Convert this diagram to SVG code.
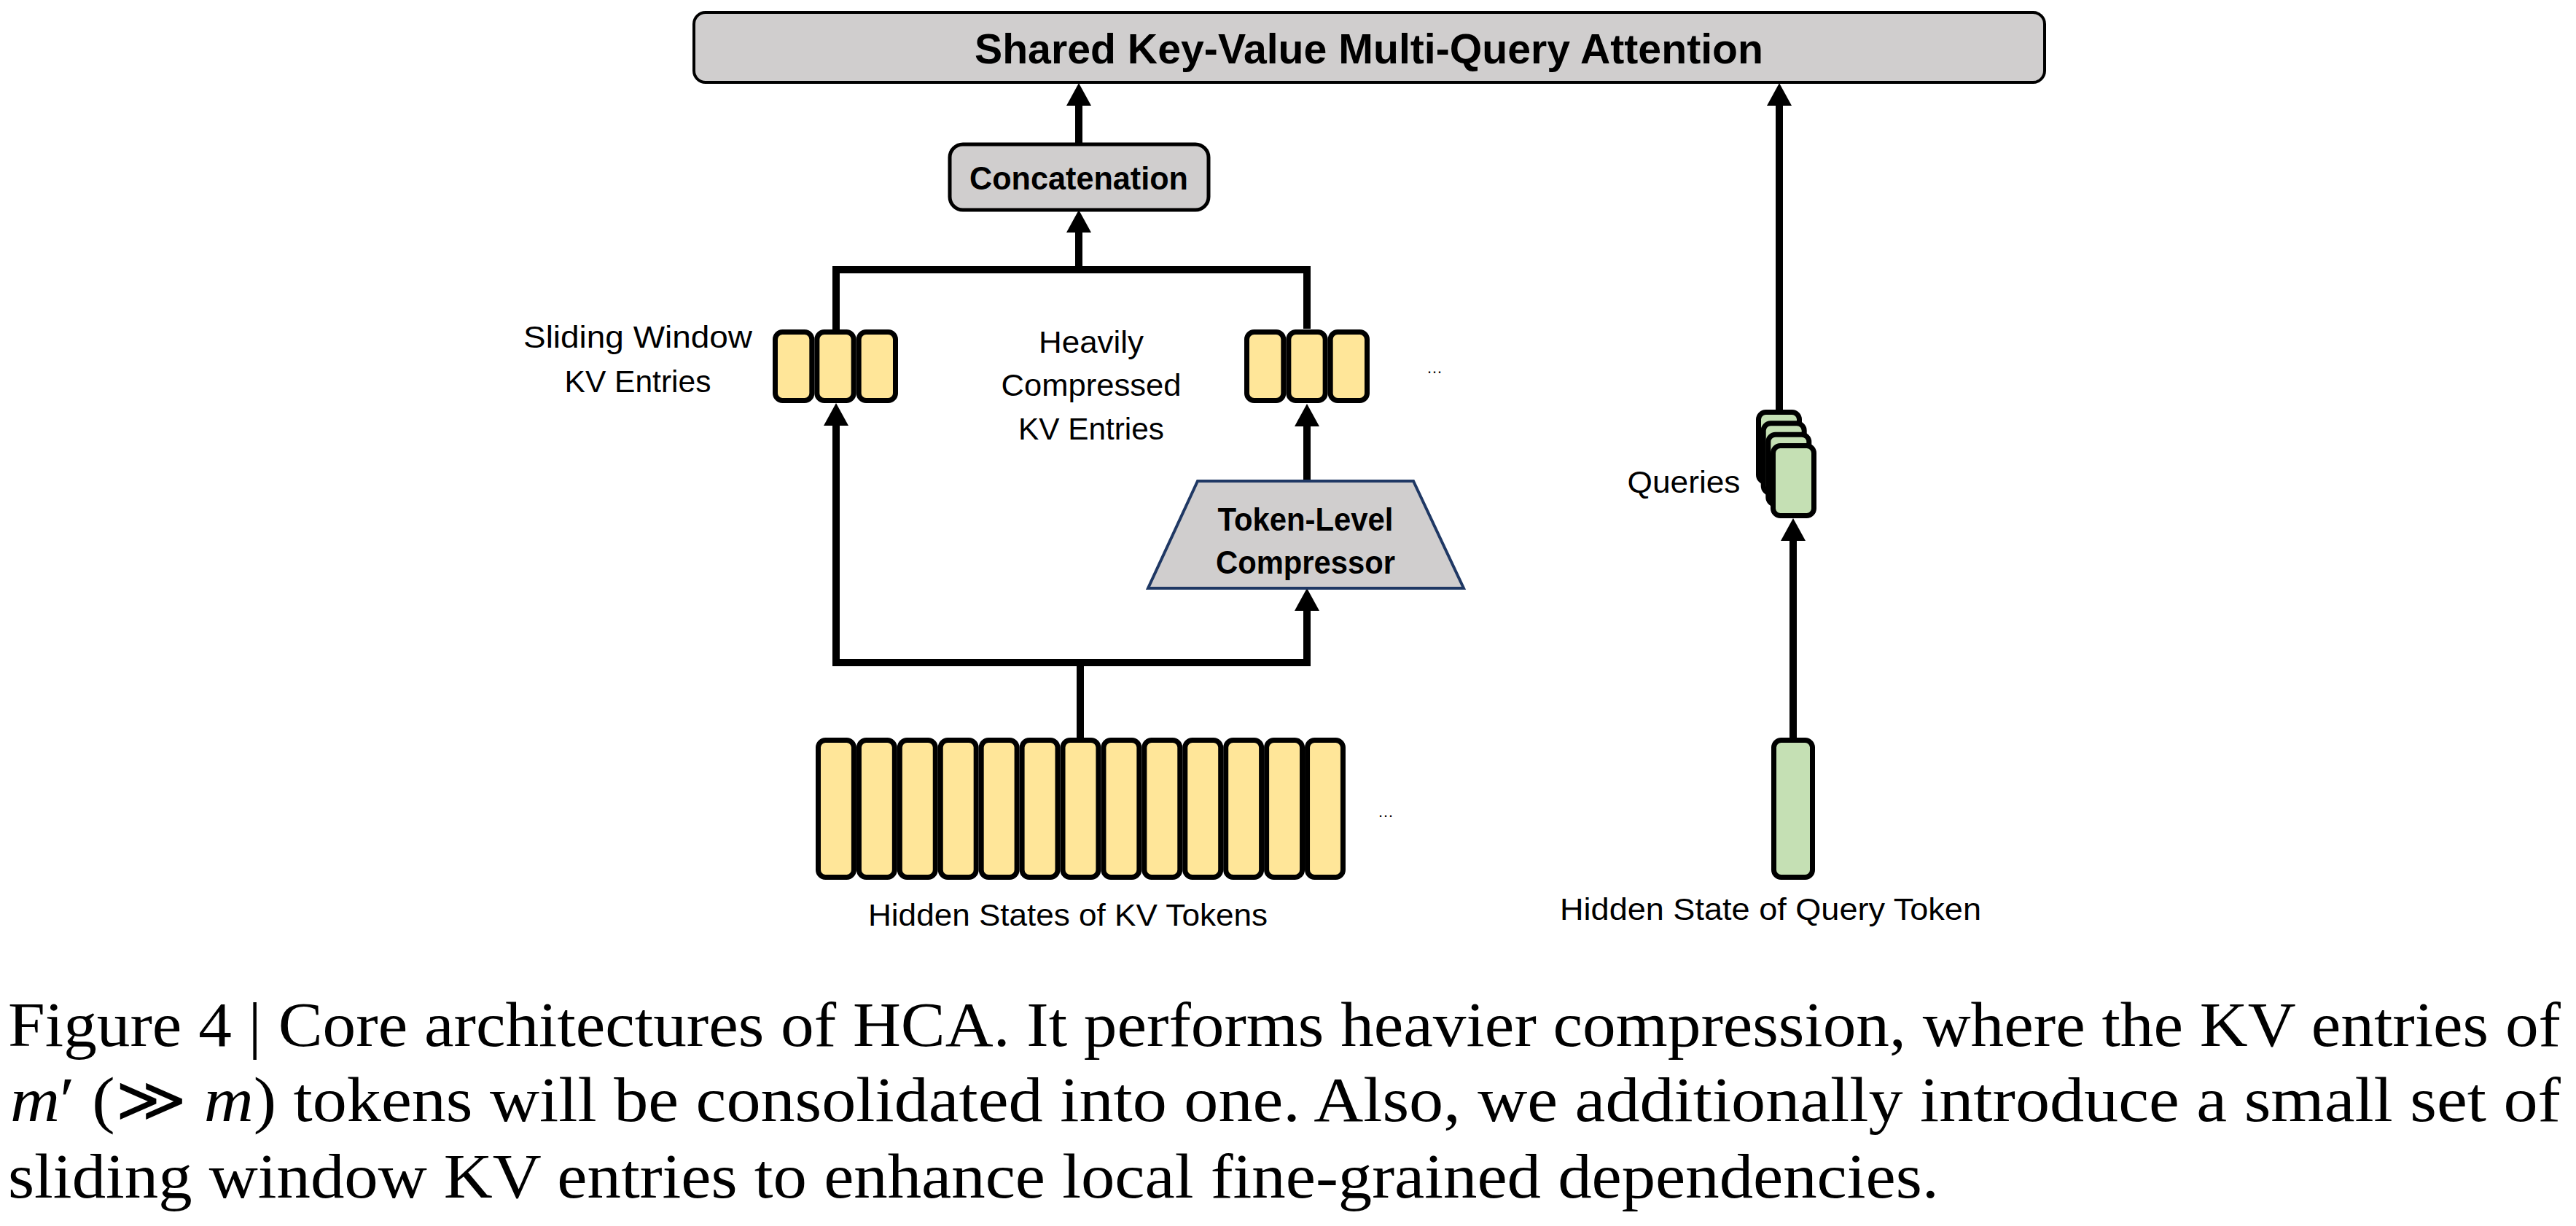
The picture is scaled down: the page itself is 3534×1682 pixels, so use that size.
<svg xmlns="http://www.w3.org/2000/svg" width="3534" height="1682" viewBox="0 0 3534 1682">
<style>
.cell{fill:#FFE699;stroke:#000;stroke-width:7}
.qcell{fill:#C5E0B4;stroke:#000;stroke-width:7}
.box{fill:#D0CECE;stroke:#000;stroke-width:4}
.wire{fill:none;stroke:#000;stroke-width:10}
.lbl{font-family:"Liberation Sans",Arial,sans-serif;font-size:42px;fill:#000;text-anchor:middle}
.b{font-weight:bold;font-size:44px}
.cap{font-family:"Liberation Serif","Times New Roman",serif;font-size:86px;fill:#000}
</style>
<defs>
<marker id="ah" markerUnits="userSpaceOnUse" markerWidth="32" markerHeight="34" refX="0" refY="17" orient="auto"><path d="M0,0 L31,17 L0,34 z" fill="#000"/></marker>
<marker id="ahs" markerUnits="userSpaceOnUse" markerWidth="32" markerHeight="34" refX="0" refY="17" orient="auto-start-reverse"><path d="M0,0 L31,17 L0,34 z" fill="#000"/></marker>
</defs>
<rect width="3534" height="1682" fill="#fff"/>

<g id="connectors">
<line class="wire" x1="1480" y1="198" x2="1480" y2="145" marker-end="url(#ah)"/>
<path class="wire" d="M1147,452 V370 H1793 V451"/>
<line class="wire" x1="1480" y1="370" x2="1480" y2="319" marker-end="url(#ah)"/>
<path class="wire" d="M1147,584 V909 H1793 V838" marker-start="url(#ahs)" marker-end="url(#ah)"/>
<line class="wire" x1="1482" y1="1012" x2="1482" y2="909"/>
<line class="wire" x1="1793" y1="660" x2="1793" y2="585" marker-end="url(#ah)"/>
<line class="wire" x1="2460" y1="1012" x2="2460" y2="742" marker-end="url(#ah)"/>
<line class="wire" x1="2441" y1="562" x2="2441" y2="145" marker-end="url(#ah)"/>
</g>

<g id="attention">
<rect class="box" x="952" y="17" width="1853" height="96" rx="16"/>
<text class="lbl b" x="1878" y="87" style="font-size:58px" textLength="1082" lengthAdjust="spacingAndGlyphs">Shared Key-Value Multi-Query Attention</text>
</g>

<g id="concatenation">
<rect class="box" x="1303" y="198" width="355" height="90" rx="18" style="stroke-width:5"/>
<text class="lbl b" x="1480" y="260" textLength="300" lengthAdjust="spacingAndGlyphs">Concatenation</text>
</g>

<g id="sliding-window">
<rect class="cell" x="1063.5" y="455.5" width="50.33" height="94" rx="10"/>
<rect class="cell" x="1120.83" y="455.5" width="50.33" height="94" rx="10"/>
<rect class="cell" x="1178.16" y="455.5" width="50.33" height="94" rx="10"/>
<text class="lbl" x="875" y="477" textLength="314" lengthAdjust="spacingAndGlyphs">Sliding Window</text>
<text class="lbl" x="875" y="538" textLength="201" lengthAdjust="spacingAndGlyphs">KV Entries</text>
</g>

<g id="compressed-entries">
<rect class="cell" x="1710.5" y="455.5" width="50.33" height="94" rx="10"/>
<rect class="cell" x="1767.83" y="455.5" width="50.33" height="94" rx="10"/>
<rect class="cell" x="1825.16" y="455.5" width="50.33" height="94" rx="10"/>
<text class="lbl" x="1497" y="484" textLength="144" lengthAdjust="spacingAndGlyphs">Heavily</text>
<text class="lbl" x="1497" y="543" textLength="247" lengthAdjust="spacingAndGlyphs">Compressed</text>
<text class="lbl" x="1497" y="603" textLength="200" lengthAdjust="spacingAndGlyphs">KV Entries</text>
<text class="lbl" x="1968" y="512" style="font-size:22px">…</text>
</g>

<g id="compressor">
<polygon points="1643,660 1939,660 2008,807 1575,807" fill="#D0CECE" stroke="#1F3864" stroke-width="4"/>
<text class="lbl b" x="1791" y="728" textLength="241" lengthAdjust="spacingAndGlyphs">Token-Level</text>
<text class="lbl b" x="1791" y="787" textLength="246" lengthAdjust="spacingAndGlyphs">Compressor</text>
</g>

<g id="kv-tokens">
<rect class="cell" x="1122.5" y="1015.5" width="48.92" height="188" rx="10"/>
<rect class="cell" x="1178.42" y="1015.5" width="48.92" height="188" rx="10"/>
<rect class="cell" x="1234.34" y="1015.5" width="48.92" height="188" rx="10"/>
<rect class="cell" x="1290.26" y="1015.5" width="48.92" height="188" rx="10"/>
<rect class="cell" x="1346.18" y="1015.5" width="48.92" height="188" rx="10"/>
<rect class="cell" x="1402.1" y="1015.5" width="48.92" height="188" rx="10"/>
<rect class="cell" x="1458.02" y="1015.5" width="48.92" height="188" rx="10"/>
<rect class="cell" x="1513.94" y="1015.5" width="48.92" height="188" rx="10"/>
<rect class="cell" x="1569.86" y="1015.5" width="48.92" height="188" rx="10"/>
<rect class="cell" x="1625.78" y="1015.5" width="48.92" height="188" rx="10"/>
<rect class="cell" x="1681.7" y="1015.5" width="48.92" height="188" rx="10"/>
<rect class="cell" x="1737.62" y="1015.5" width="48.92" height="188" rx="10"/>
<rect class="cell" x="1793.54" y="1015.5" width="48.92" height="188" rx="10"/>
<text class="lbl" x="1901" y="1121" style="font-size:22px">…</text>
<text class="lbl" x="1465" y="1270" textLength="548" lengthAdjust="spacingAndGlyphs">Hidden States of KV Tokens</text>
</g>

<g id="queries">
<rect class="qcell" x="2412.5" y="565.5" width="56" height="96" rx="10"/>
<rect class="qcell" x="2419.2" y="580.8" width="56" height="96" rx="10"/>
<rect class="qcell" x="2425.8" y="596.2" width="56" height="96" rx="10"/>
<rect class="qcell" x="2432.5" y="611.5" width="56" height="96" rx="10"/>
<text class="lbl" x="2310" y="676" textLength="155" lengthAdjust="spacingAndGlyphs">Queries</text>
</g>

<g id="query-token">
<rect class="qcell" x="2433.5" y="1015.5" width="53" height="188" rx="10"/>
<text class="lbl" x="2429" y="1262" textLength="578" lengthAdjust="spacingAndGlyphs">Hidden State of Query Token</text>
</g>

<g id="caption">
<text class="cap" x="11" y="1435" textLength="3502" lengthAdjust="spacingAndGlyphs">Figure 4 | Core architectures of HCA. It performs heavier compression, where the KV entries of</text>
<text class="cap" x="14" y="1538" textLength="3499" lengthAdjust="spacingAndGlyphs"><tspan font-style="italic">m</tspan>′ (≫ <tspan font-style="italic">m</tspan>) tokens will be consolidated into one.  Also, we additionally introduce a small set of</text>
<text class="cap" x="11" y="1643" textLength="2649" lengthAdjust="spacingAndGlyphs">sliding window KV entries to enhance local fine-grained dependencies.</text>
</g>
</svg>
